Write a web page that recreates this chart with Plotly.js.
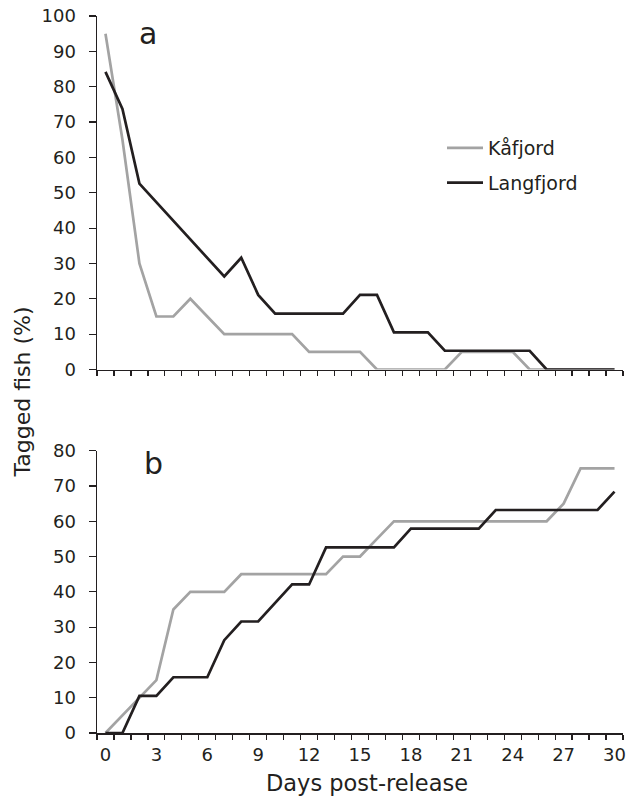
<!DOCTYPE html>
<html>
<head>
<meta charset="utf-8">
<script src="https://cdn.plot.ly/plotly-3.0.1.min.js"></script>
<style>html,body{margin:0;padding:0;background:#fff;}#chart{width:627px;height:801px;}</style>
</head>
<body>
<div id="chart"></div>
<script>
// Days post-release (category positions)
const days = [0,1,2,3,4,5,6,7,8,9,10,11,12,13,14,15,16,17,18,19,20,21,22,23,24,25,26,27,28,29,30];
const xTickLabels = ['0','3','6','9','12','15','18','21','24','27','30'];
const xTickVals = [0,3,6,9,12,15,18,21,24,27,30];

// Panel a
const kafjordA = [95,65,30,15,15,20,15,10,10,10,10,10,5,5,5,5,0,0,0,0,0,5,5,5,5,0,0,0,0,0,0];
const langfjordA = [84.2,73.7,52.6,47.4,42.1,36.8,31.6,26.3,31.6,21.1,15.8,15.8,15.8,15.8,15.8,21.1,21.1,10.5,10.5,10.5,5.3,5.3,5.3,5.3,5.3,5.3,0,0,0,0,0];

// Panel b
const kafjordB = [0,5,10,15,35,40,40,40,45,45,45,45,45,45,50,50,55,60,60,60,60,60,60,60,60,60,60,65,75,75,75];
const langfjordB = [0,0,10.5,10.5,15.8,15.8,15.8,26.3,31.6,31.6,36.8,42.1,42.1,52.6,52.6,52.6,52.6,52.6,57.9,57.9,57.9,57.9,57.9,63.2,63.2,63.2,63.2,63.2,63.2,63.2,68.4];

const seriesNames = ['Kåfjord','Langfjord'];

const GRAY = '#a3a3a3';
const BLACK = '#231f20';
const FONT = 'DejaVu Sans, sans-serif';

const traces = [
  {x: days, y: kafjordA, xaxis:'x', yaxis:'y', mode:'lines', name: seriesNames[0], legendgroup:'k',
   line:{color:GRAY, width:2.7}, showlegend:true},
  {x: days, y: langfjordA, xaxis:'x', yaxis:'y', mode:'lines', name: seriesNames[1], legendgroup:'l',
   line:{color:BLACK, width:2.7}, showlegend:true},
  {x: days, y: kafjordB, xaxis:'x2', yaxis:'y2', mode:'lines', name: seriesNames[0], legendgroup:'k',
   line:{color:GRAY, width:2.7}, showlegend:false},
  {x: days, y: langfjordB, xaxis:'x2', yaxis:'y2', mode:'lines', name: seriesNames[1], legendgroup:'l',
   line:{color:BLACK, width:2.7}, showlegend:false}
];

const plotH = 801 - 16 - 68;
const toPaperY = py => (733 - py) / plotH;
const toPaperX = px => (px - 97) / 526;

const xCommon = {
  range:[-0.5,30.5], showgrid:false, zeroline:false, showline:true,
  linecolor:BLACK, linewidth:1.5, fixedrange:true,
  tickmode:'array', tickvals:xTickVals, ticktext:xTickLabels,
  ticks:'outside', ticklen:5, tickcolor:'rgba(0,0,0,0)',
  minor:{ticks:'outside', ticklen:5, tickwidth:1.2, tickcolor:BLACK, tickmode:'linear', tick0:-0.5, dtick:1},
  tickfont:{family:FONT, size:18, color:BLACK}
};
const yCommon = {
  showgrid:false, zeroline:false, showline:true, linecolor:BLACK, linewidth:1.5,
  ticks:'outside', ticklen:7, tickwidth:1.2, tickcolor:BLACK, tickmode:'linear', tick0:0, dtick:10,
  ticklabelstandoff:9,
  tickfont:{family:FONT, size:18, color:BLACK}, fixedrange:true
};

const layout = {
  width:627, height:801,
  margin:{l:97, r:4, t:16, b:68},
  paper_bgcolor:'#ffffff', plot_bgcolor:'#ffffff',
  font:{family:FONT, color:BLACK},
  showlegend:true,
  legend:{x:toPaperX(442), y:toPaperY(129), xanchor:'left', yanchor:'top', itemwidth:36,
          font:{family:FONT, size:19, color:BLACK}, bgcolor:'rgba(0,0,0,0)', tracegroupgap:7},
  xaxis: Object.assign({}, xCommon, {anchor:'y', domain:[0,1], showticklabels:false}),
  xaxis2: Object.assign({}, xCommon, {anchor:'y2', domain:[0,1], showticklabels:true}),
  yaxis: Object.assign({}, yCommon, {anchor:'x', domain:[toPaperY(369.5),1], range:[0,100]}),
  yaxis2: Object.assign({}, yCommon, {anchor:'x2', domain:[0,toPaperY(450.7)], range:[0,80]}),
  annotations:[
    {text:'Tagged fish (%)', textangle:-90, xref:'paper', yref:'paper', x:toPaperX(22), y:toPaperY(392.5),
     xanchor:'center', yanchor:'middle', showarrow:false, font:{family:FONT, size:22, color:BLACK}},
    {text:'Days post-release', xref:'paper', yref:'paper', x:toPaperX(367), y:toPaperY(783),
     xanchor:'center', yanchor:'middle', showarrow:false, font:{family:FONT, size:22.5, color:BLACK}},
    {text:'a', xref:'paper', yref:'paper', x:toPaperX(148), y:toPaperY(33.5),
     xanchor:'center', yanchor:'middle', showarrow:false, font:{family:FONT, size:30, color:BLACK}},
    {text:'b', xref:'paper', yref:'paper', x:toPaperX(153.3), y:toPaperY(463.5),
     xanchor:'center', yanchor:'middle', showarrow:false, font:{family:FONT, size:30, color:BLACK}}
  ]
};

Plotly.newPlot('chart', traces, layout, {displayModeBar:false, staticPlot:true});
</script>
</body>
</html>
